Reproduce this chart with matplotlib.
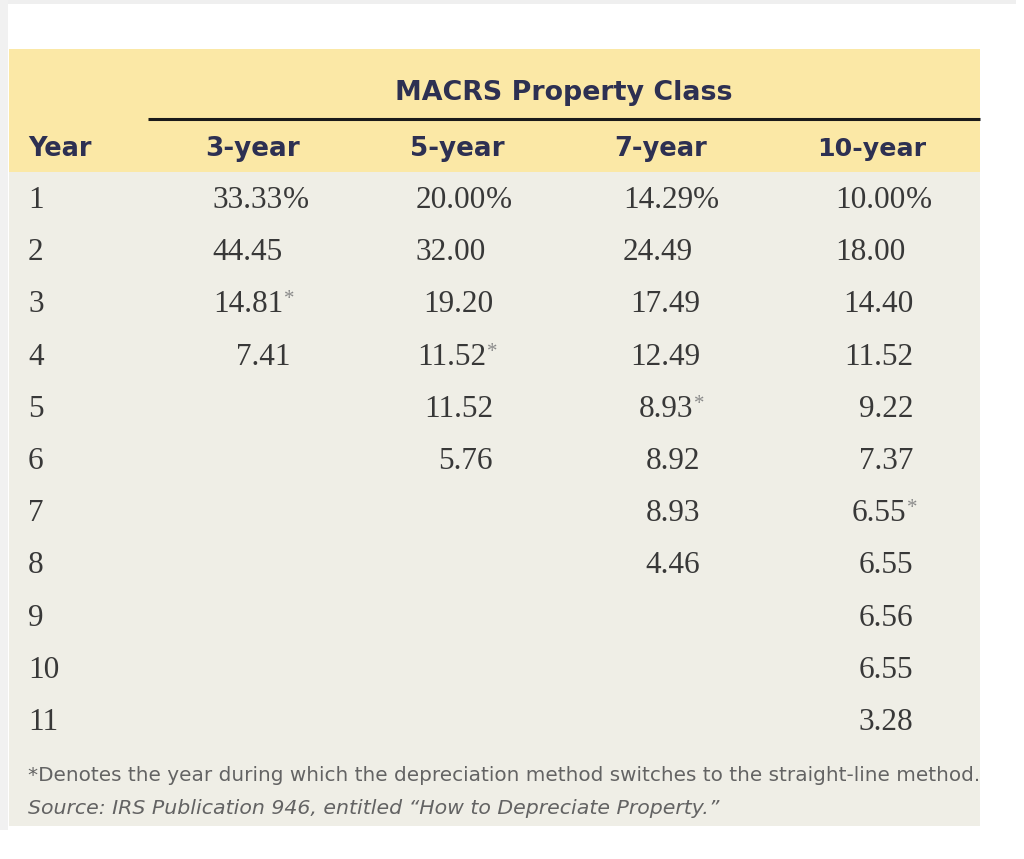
import matplotlib
matplotlib.use("Agg")
import matplotlib.pyplot as plt
from matplotlib.patches import Rectangle

# ---- data ----
years = list(range(1, 12))
class_labels = ["3-year", "5-year", "7-year", "10-year"]
rate_3 = [33.33, 44.45, 14.81, 7.41]
rate_5 = [20.00, 32.00, 19.20, 11.52, 11.52, 5.76]
rate_7 = [14.29, 24.49, 17.49, 12.49, 8.93, 8.92, 8.93, 4.46]
rate_10 = [10.00, 18.00, 14.40, 11.52, 9.22, 7.37, 6.55, 6.55, 6.56, 6.55, 3.28]
switch_year = [3, 4, 5, 7]   # year of switch to straight-line, per class
title = "MACRS Property Class"
year_header = "Year"
footnote = "*Denotes the year during which the depreciation method switches to the straight-line method."
source = "Source: IRS Publication 946, entitled \u201cHow to Depreciate Property.\u201d"

rates = [rate_3, rate_5, rate_7, rate_10]

# ---- layout (pixel coords) ----
W, H = 1024, 859
fig = plt.figure(figsize=(W / 100, H / 100), dpi=100)
ax = fig.add_axes([0, 0, 1, 1])
ax.set_xlim(0, W)
ax.set_ylim(H, 0)
ax.axis("off")
renderer = fig.canvas.get_renderer()


def fit(t, width):
    """scale the text's font size so that it spans `width` pixels"""
    fs = t.get_fontsize()
    w = t.get_window_extent(renderer).width
    t.set_fontsize(fs * width / w)
    return t


YELLOW = "#fbe8a6"
BODY = "#efeee6"
NAVY = "#2d3052"
NUM = "#383838"
GRAY = "#636363"

# faint frame
ax.add_patch(Rectangle((0, 0), 1016, 4, color="#efefef", lw=0))
ax.add_patch(Rectangle((0, 0), 8, 830, color="#f1f1f1", lw=0))

left, right = 9, 980
ax.add_patch(Rectangle((left, 49), right - left, 123, color=YELLOW, lw=0))
ax.add_patch(Rectangle((left, 172), right - left, 654, color=BODY, lw=0))

hfont = dict(family=["DejaVu Sans"], fontweight="bold", color=NAVY)
t = ax.text(564, 100, title, ha="center", va="baseline", fontsize=18, **hfont)
fit(t, 338)
ax.plot([148, 980], [118.5, 118.5], color="#1a1a1a", lw=2.2, solid_capstyle="butt")

col_center = [253, 457, 661, 872]
head_w = [95, 95, 93, 109]
t = ax.text(28, 156, year_header, ha="left", va="baseline", fontsize=18, **hfont)
fit(t, 64)
for cx, lab, w in zip(col_center, class_labels, head_w):
    t = ax.text(cx, 156, lab, ha="center", va="baseline", fontsize=18, **hfont)
    fit(t, w)

base0, row_dy = 208, 52.2
nfont = dict(family=["Liberation Serif", "DejaVu Serif"], color=NUM, fontsize=22.5)

for i, yr in enumerate(years):
    y = base0 + i * row_dy
    ax.text(28, y, str(yr), ha="left", va="baseline", **nfont)

col_right = [290, 493, 700, 913]
for c, vals in enumerate(rates):
    for i, v in enumerate(vals):
        y = base0 + i * row_dy
        star = years[i] == switch_year[c]
        xr = col_right[c] - (7 if (i < 2 or star) else 0)
        ax.text(xr, y, f"{v:.2f}", ha="right", va="baseline", **nfont)
        if i == 0:
            ax.text(xr, y, "%", ha="left", va="baseline", **nfont)
        if star:
            ax.text(xr + 0.5, y - 22, "*", ha="left", va="top", fontsize=15,
                    color="#8a8a8a", family=["Liberation Serif", "DejaVu Serif"])

t = ax.text(28, 781, footnote, ha="left", va="baseline", fontsize=13,
            family=["DejaVu Sans"], color=GRAY)
fit(t, 946)
t = ax.text(28, 814, source, ha="left", va="baseline", fontsize=13, style="italic",
            family=["DejaVu Sans"], color=GRAY)
fit(t, 690)

fig.savefig("out.png", dpi=100, facecolor="white")
